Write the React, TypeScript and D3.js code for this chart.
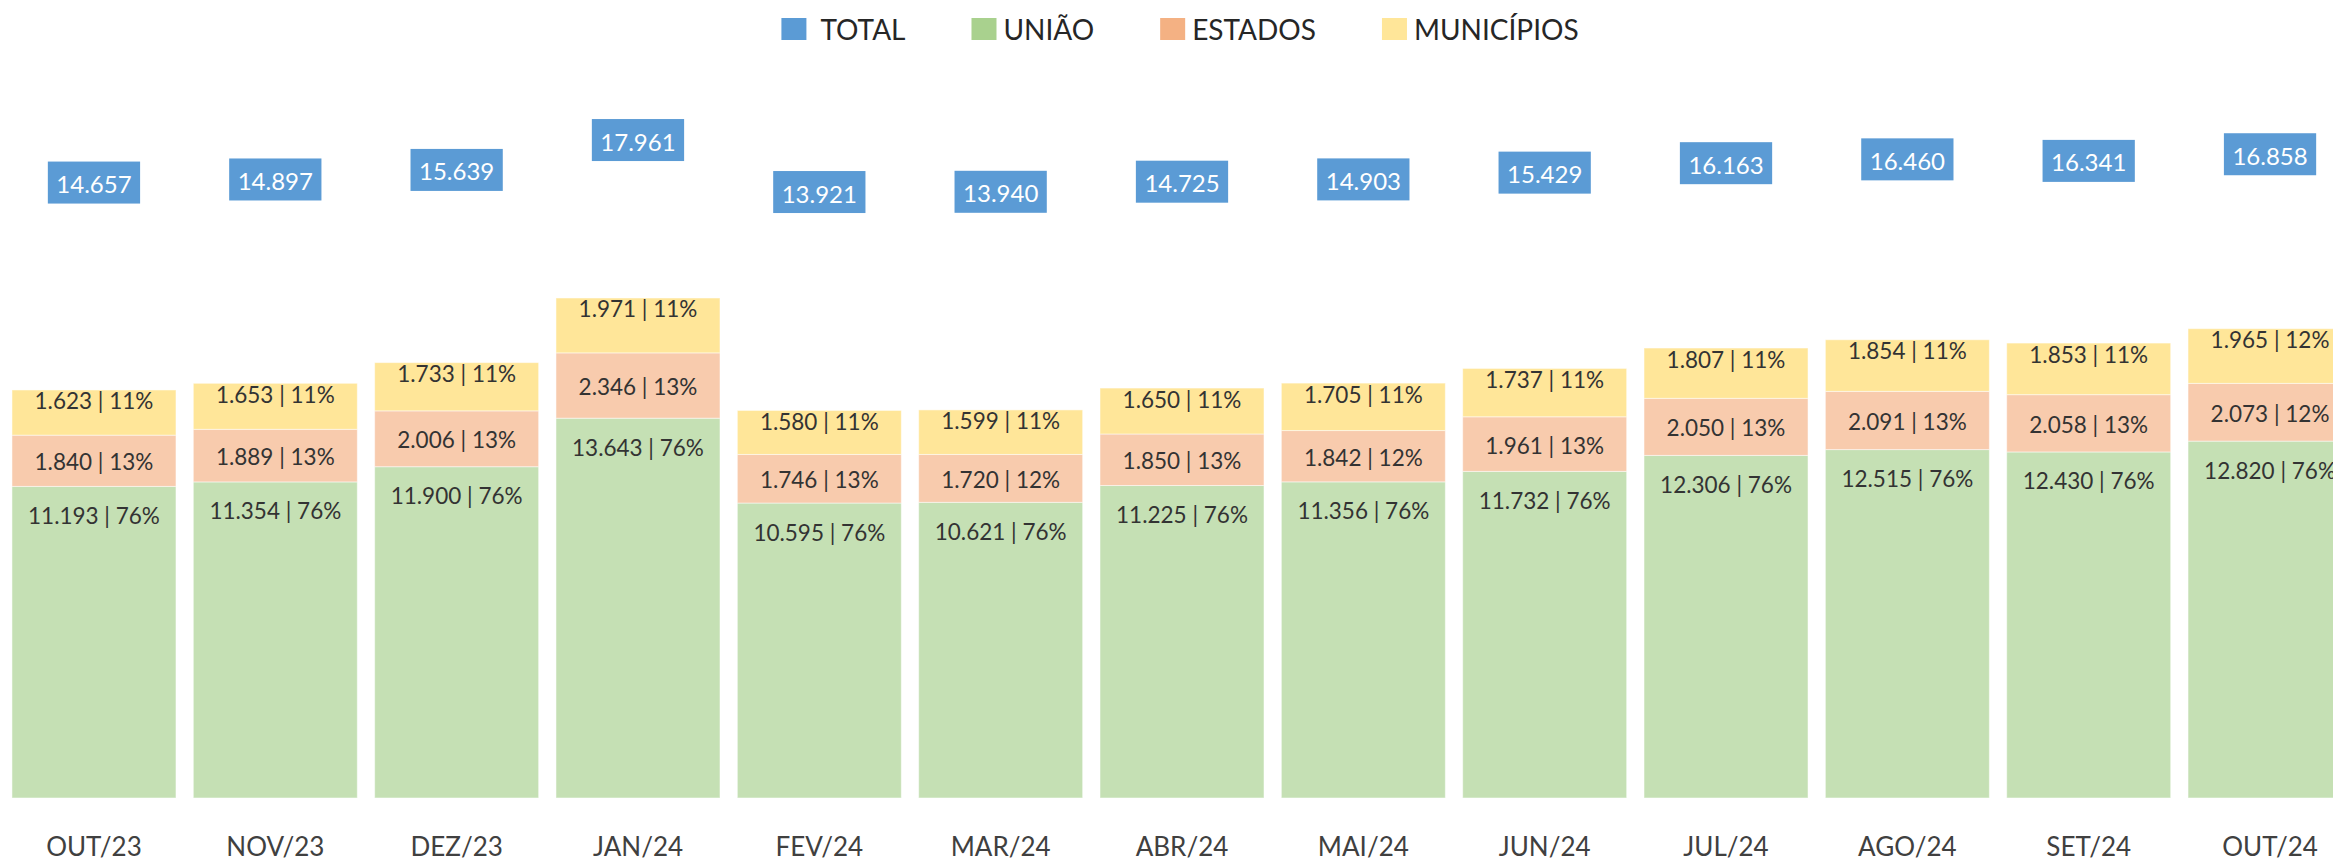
import React, { useEffect, useRef } from 'react'
import { select, scaleBand, scaleLinear, stack, axisBottom, formatLocale } from 'd3'

const months = ['OUT/23', 'NOV/23', 'DEZ/23', 'JAN/24', 'FEV/24', 'MAR/24', 'ABR/24', 'MAI/24', 'JUN/24', 'JUL/24', 'AGO/24', 'SET/24', 'OUT/24']
const uniao = [11193, 11354, 11900, 13643, 10595, 10621, 11225, 11356, 11732, 12306, 12515, 12430, 12820]
const estados = [1840, 1889, 2006, 2346, 1746, 1720, 1850, 1842, 1961, 2050, 2091, 2058, 2073]
const municipios = [1623, 1653, 1733, 1971, 1580, 1599, 1650, 1705, 1737, 1807, 1854, 1853, 1965]
const totals = [14657, 14897, 15639, 17961, 13921, 13940, 14725, 14903, 15429, 16163, 16460, 16341, 16858]
const legendNames = ['TOTAL', 'UNIÃO', 'ESTADOS', 'MUNICÍPIOS']

const width = 2333,
  height = 862
const font = 'Lato, "Open Sans", sans-serif'

export default function App() {
  const svgRef = useRef<SVGSVGElement>(null)

  useEffect(() => {
    const svg = select(svgRef.current)
    svg.selectAll('*').remove()

    const fmt = formatLocale({ decimal: ',', thousands: '.', grouping: [3], currency: ['R$', ''] }).format(',d')
    const pct = (v: number, t: number) => Math.round((v / t) * 100) + '%'

    const rows = months.map((m, i) => ({
      month: m,
      uniao: uniao[i],
      estados: estados[i],
      municipios: municipios[i],
      total: totals[i],
    }))
    const keys = ['uniao', 'estados', 'municipios']
    const barColors = { uniao: '#C5E0B4', estados: '#F8CBAD', municipios: '#FFE699' }
    const legendColors = ['#5B9BD5', '#A9D18E', '#F4B183', '#FFE699']

    const stacked = stack().keys(keys)(rows as any)

    // x scale
    const x = scaleBand()
      .domain(months)
      .range([3.3, 2360.7])
      .paddingInner(0.0956)
      .paddingOuter(0.0478)

    // y scales: bars and total labels
    const y = scaleLinear().domain([0, 20000]).range([798, 241.2])
    const yTotal = scaleLinear().domain([0, 20000]).range([371.2, 113.8])

    // bars
    const layers = svg.append('g')
      .selectAll('g')
      .data(stacked)
      .join('g')
      .attr('fill', (d: any) => barColors[d.key])

    layers.selectAll('rect')
      .data((d: any) => d)
      .join('rect')
      .attr('x', (d: any) => x(d.data.month))
      .attr('width', x.bandwidth())
      .attr('y', (d: any) => y(d[1]))
      .attr('height', (d: any) => y(d[0]) - y(d[1]))
      .attr('stroke', 'rgba(255,255,255,0.5)')
      .attr('stroke-width', 1)

    // labels inside segments
    const labelOffset = (key: string, d: any) => {
      if (key === 'municipios') return y(d[1]) + 11
      if (key === 'estados') return (y(d[0]) + y(d[1])) / 2 + 1
      return y(d[1]) + 29
    }

    stacked.forEach((layer: any) => {
      svg.append('g')
        .selectAll('text')
        .data(layer)
        .join('text')
        .attr('x', (d: any) => x(d.data.month) + x.bandwidth() / 2)
        .attr('y', (d: any) => labelOffset(layer.key, d))
        .attr('text-anchor', 'middle')
        .attr('dominant-baseline', 'central')
        .style('font-family', font)
        .style('font-size', '22.5px')
        .attr('fill', '#333333')
        .text((d: any) => `${fmt(d.data[layer.key])} | ${pct(d.data[layer.key], d.data.total)}`)
    })

    // total boxes
    const totalG = svg.append('g')
      .selectAll('g')
      .data(rows)
      .join('g')
      .attr('transform', (d) => `translate(${x(d.month) + x.bandwidth() / 2}, ${yTotal(d.total)})`)

    const totalText = totalG.append('text')
      .attr('text-anchor', 'middle')
      .attr('dominant-baseline', 'central')
      .attr('y', 1)
      .style('font-family', font)
      .style('font-size', '24px')
      .attr('fill', '#ffffff')
      .text((d) => fmt(d.total))

    totalText.each(function () {
      const w = (this as SVGTextElement).getComputedTextLength() + 17
      select(this.parentNode as SVGGElement)
        .insert('rect', 'text')
        .attr('x', -w / 2)
        .attr('y', -21)
        .attr('width', w)
        .attr('height', 42)
        .attr('fill', '#5B9BD5')
    })

    // x axis
    const xAxis = svg.append('g')
      .attr('transform', 'translate(0, 798)')
      .call(axisBottom(x).tickSize(0))
    xAxis.select('.domain').remove()
    xAxis.selectAll('text')
      .attr('y', 58)
      .attr('dy', 0)
      .style('font-family', font)
      .style('font-size', '26px')
      .attr('fill', '#404040')

    // legend
    const legend = svg.append('g')
    let lx = 0
    legendNames.forEach((name, i) => {
      const item = legend.append('g').attr('transform', `translate(${lx}, 0)`)
      item.append('rect')
        .attr('x', 0)
        .attr('y', 18)
        .attr('width', 25)
        .attr('height', 22)
        .attr('fill', legendColors[i])
      const t = item.append('text')
        .attr('x', i === 0 ? 39 : 32)
        .attr('y', 39.5)
        .style('font-family', font)
        .style('font-size', '28px')
        .attr('fill', '#262626')
        .text(name)
      const tw = (t.node() as SVGTextElement).getComputedTextLength()
      lx += (i === 0 ? 39 : 32) + tw + 66
    })
    const legendWidth = lx - 66
    legend.attr('transform', `translate(${1180 - legendWidth / 2}, 0)`)
  }, [])

  return (
    <svg
      ref={svgRef}
      width={width}
      height={height}
      style={{ position: 'absolute', left: 0, top: 0, background: '#ffffff' }}
    ></svg>
  )
}
